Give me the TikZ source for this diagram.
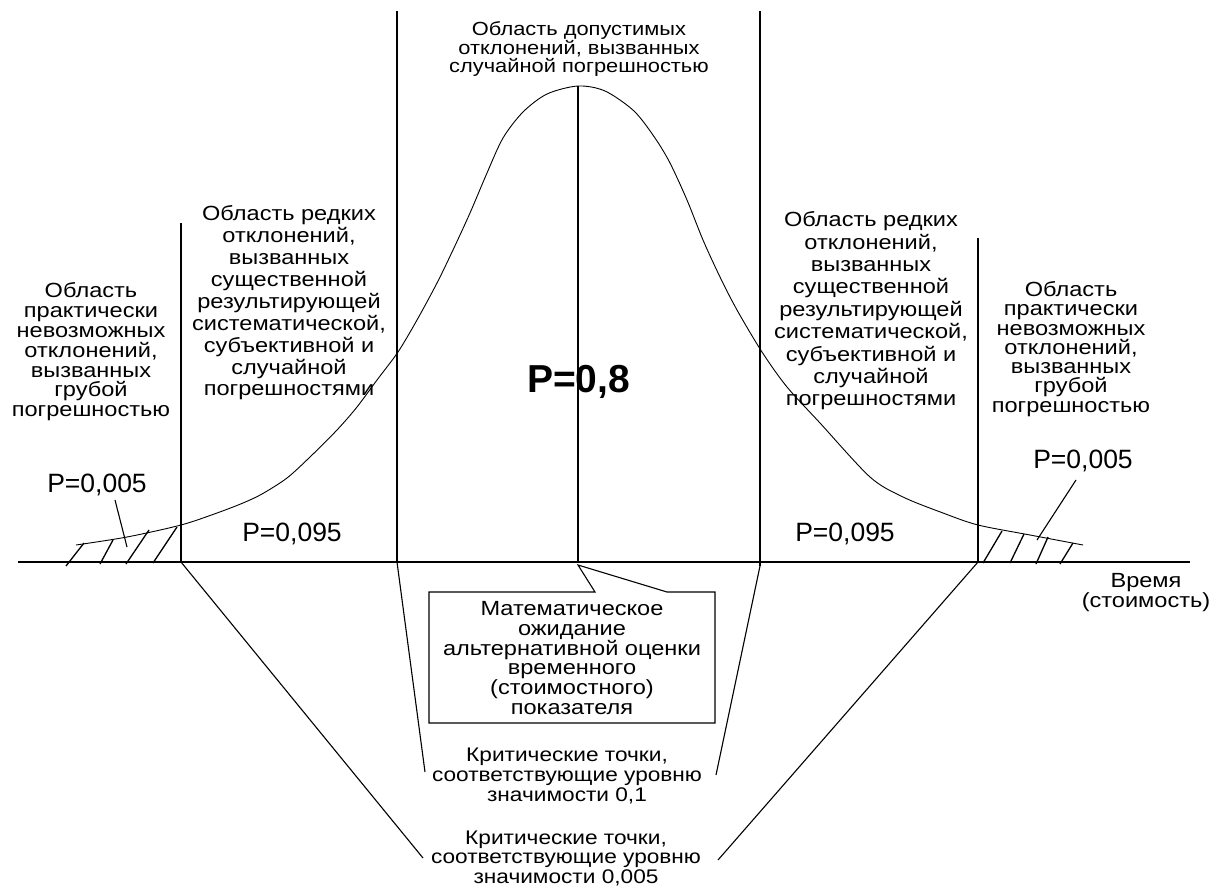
\documentclass[tikz,border=0pt]{standalone}
\usepackage{fontspec}
\setmainfont{Liberation Sans}
\newfontfamily\widefont[FakeStretch=1.15]{Liberation Sans}
\begin{document}
\begin{tikzpicture}[x=1pt,y=-1pt,
  lbl/.style={font=\widefont\fontsize{20.5}{#1}\selectfont, align=center, inner sep=0pt},
  lbl/.default=20,
  lbls/.style={font=\widefont\fontsize{#1}{}\selectfont},
  plbl/.style={font=\fontsize{26.5}{30}\selectfont, inner sep=0pt, anchor=base},
  bigp/.style={font=\bfseries\fontsize{39}{44}\selectfont, inner sep=0pt, anchor=base},
  axisline/.style={line width=1.8pt},
  vline/.style={line width=1.5pt},
  thin/.style={line width=1.1pt},
  curve/.style={line width=0.9pt},
  hatch/.style={line width=1.3pt}]
\useasboundingbox (0,0) rectangle (1211,886);
\fill[white] (0,0) rectangle (1211,886);

% key points
\coordinate (A0) at (18,562);   \coordinate (A1) at (1190,562);
\coordinate (LOt) at (181,223); \coordinate (LOb) at (181,562);
\coordinate (LIt) at (397,11);  \coordinate (LIb) at (397,562);
\coordinate (Ct) at (578,86);   \coordinate (Cb) at (578,562);
\coordinate (RIt) at (760,11);  \coordinate (RIb) at (760,566);
\coordinate (ROt) at (978,238); \coordinate (ROb) at (978,562);

% axis
\draw[axisline] (A0) -- (A1);

% bell curve
\draw[curve] plot[smooth, tension=0.5] coordinates {
 (76,545) (127,537) (181,525) (217,513) (243,503) (262,494) (287,478) (310,457)
 (337,430) (357,407) (377,380) (398,352) (417,320) (437,283) (453,250) (470,213)
 (487,173) (503,138) (523,112) (547,94) (578,86) (605,91) (634,111) (655,138)
 (670,163) (687,200) (703,240) (720,277) (737,310) (762,352) (787,387) (820,423)
 (870,477) (903,497) (943,513) (978,525) (1030,535) (1083,545)};

% verticals
\draw[vline] (LOt) -- (LOb);
\draw[vline] (LIt) -- (LIb);
\draw[vline] (Ct) -- (Cb);
\draw[vline] (RIt) -- (RIb);
\draw[vline] (ROt) -- (ROb);

% hatching left
\draw[hatch] (66,566) -- (84,543);
\draw[hatch] (100,564) -- (113,540);
\draw[hatch] (126,564) -- (149,530);
\draw[hatch] (153,563) -- (177,527);
% hatching right
\draw[hatch] (983,563) -- (1002,531);
\draw[hatch] (1010,563) -- (1024,534);
\draw[hatch] (1036,564) -- (1048,537);
\draw[hatch] (1060,564) -- (1073,543);

% probability labels
\node[plbl] (p1) at (97,492) {P=0,005};
\node[plbl] (p2) at (292,541) {P=0,095};
\node[plbl] (p3) at (845,541) {P=0,095};
\node[plbl] (p4) at (1083,468) {P=0,005};
\node[bigp] (p0) at (578.5,392) {P=0,8};
\coordinate (h1) at (127,547);
\coordinate (h4) at (1037,540);
\draw[thin] (115,500) -- (h1);
\draw[thin] (1076,480) -- (h4);

% region texts
\node[lbl=17.5, font=\widefont\fontsize{19}{17.5}\selectfont] (top) at (579,49) {Область допустимых\\отклонений, вызванных\\случайной погрешностью};
\node[lbl=19.8] (lo) at (91,352) {Область\\практически\\невозможных\\отклонений,\\вызванных\\грубой\\погрешностью};
\node[lbl=21.9] (li) at (289,303) {Область редких\\отклонений,\\вызванных\\существенной\\результирующей\\систематической,\\субъективной и\\случайной\\погрешностями};
\node[lbl=22.4] (ri) at (871,311) {Область редких\\отклонений,\\вызванных\\существенной\\результирующей\\систематической,\\субъективной и\\случайной\\погрешностями};
\node[lbl=19.3] (ro) at (1071,349) {Область\\практически\\невозможных\\отклонений,\\вызванных\\грубой\\погрешностью};
\node[lbl=18] (time) at (1146,593) {Время\\(стоимость)};

% callout box
\draw[thin] (429,592) -- (595,592) -- (578,565) -- (667,592) -- (715,592)
  -- (715,723) -- (429,723) -- cycle;
\node[lbl=19.8] (mx) at (572,658) {Математическое\\ожидание\\альтернативной оценки\\временного\\(стоимостного)\\показателя};

% critical points texts
\node[lbl=20, font=\widefont\fontsize{19.7}{20}\selectfont] (k1) at (567,776) {Критические точки,\\соответствующие уровню\\значимости 0,1};
\node[lbl=19.5, font=\widefont\fontsize{19.7}{19.5}\selectfont] (k2) at (566,858) {Критические точки,\\соответствующие уровню\\значимости 0,005};
\coordinate (k1l) at (425,772); \coordinate (k1r) at (716,775);
\coordinate (k2l) at (423,858); \coordinate (k2r) at (718,860);
\draw[thin] (LIb) -- (k1l);
\draw[thin] (RIb) -- (k1r);
\draw[thin] (LOb) -- (k2l);
\draw[thin] (ROb) -- (k2r);
\end{tikzpicture}
\end{document}
